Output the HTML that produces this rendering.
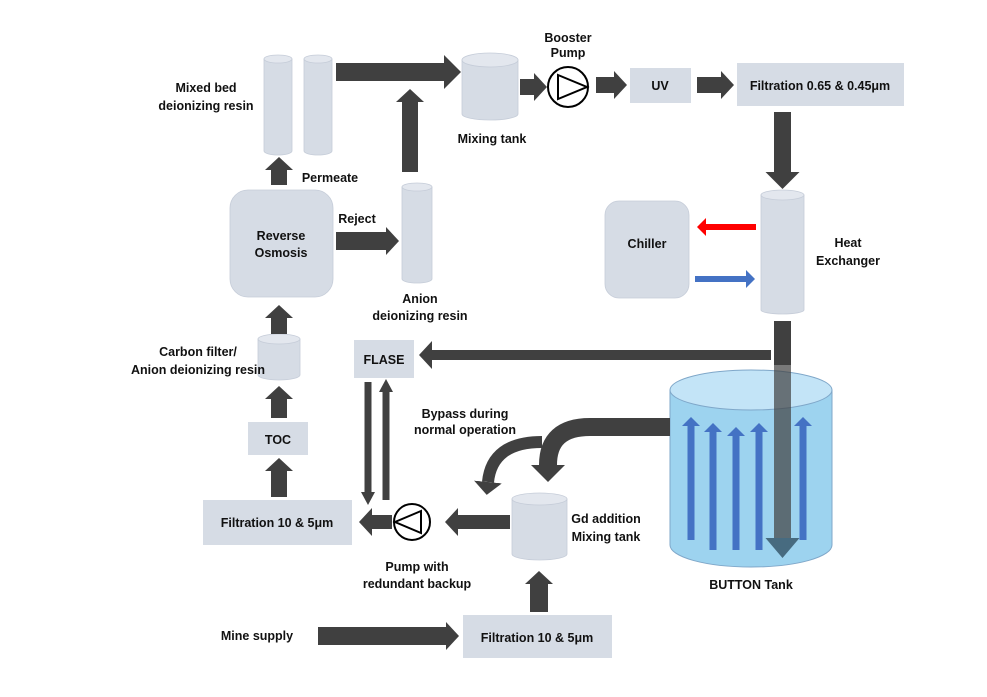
<!DOCTYPE html>
<html><head><meta charset="utf-8"><style>
html,body{margin:0;padding:0;background:#fff}
svg{display:block}
text{font-family:"Liberation Sans",sans-serif;font-weight:bold;font-size:12.5px;fill:#111}
</style></head><body>
<svg width="987" height="697" viewBox="0 0 987 697" xmlns="http://www.w3.org/2000/svg">
<defs>
<marker id="h" markerUnits="userSpaceOnUse" markerWidth="18" markerHeight="34" refX="0" refY="17" orient="auto"><path d="M0,0 L17,17 L0,34z" fill="#404040"/></marker>
<marker id="hs" markerUnits="userSpaceOnUse" markerWidth="14" markerHeight="28" refX="0" refY="14" orient="auto"><path d="M0,0 L13,14 L0,28z" fill="#404040"/></marker>
<marker id="hb" markerUnits="userSpaceOnUse" markerWidth="10" markerHeight="18" refX="0" refY="9" orient="auto"><path d="M0,0 L9,9 L0,18z" fill="#4472c4"/></marker>
<marker id="hr" markerUnits="userSpaceOnUse" markerWidth="10" markerHeight="18" refX="0" refY="9" orient="auto"><path d="M0,0 L9,9 L0,18z" fill="#ff0000"/></marker>
<marker id="ht" markerUnits="userSpaceOnUse" markerWidth="22" markerHeight="34" refX="0" refY="17" orient="auto"><path d="M0,0 L20,17 L0,34z" fill="#3e5f73" fill-opacity="0.9"/></marker>
</defs>
<g fill="#d6dce5" stroke="#c5ccd8" stroke-width="0.8">
<path d="M264,59 v92 a14,4 0 0 0 28,0 v-92z"/><ellipse cx="278" cy="59" rx="14" ry="4" fill="#e3e7ee"/>
<path d="M304,59 v92 a14,4 0 0 0 28,0 v-92z"/><ellipse cx="318" cy="59" rx="14" ry="4" fill="#e3e7ee"/>
<path d="M462,60 v54 a28,6 0 0 0 56,0 v-54z"/><ellipse cx="490" cy="60" rx="28" ry="7" fill="#e3e7ee"/>
<path d="M402,187 v92 a15,4 0 0 0 30,0 v-92z"/><ellipse cx="417" cy="187" rx="15" ry="4" fill="#e3e7ee"/>
<rect x="230" y="190" width="103" height="107" rx="18"/>
<path d="M258,339 v36 a21,5 0 0 0 42,0 v-36z"/><ellipse cx="279" cy="339" rx="21" ry="5" fill="#e3e7ee"/>
<rect x="248" y="422" width="60" height="33" stroke="none"/>
<rect x="203" y="500" width="149" height="45" stroke="none"/>
<rect x="354" y="340" width="60" height="38" stroke="none"/>
<rect x="630" y="68" width="61" height="35" stroke="none"/>
<rect x="737" y="63" width="167" height="43" stroke="none"/>
<rect x="605" y="201" width="84" height="97" rx="14"/>
<path d="M761,195 v115 a21.5,4 0 0 0 43,0 v-115z"/><ellipse cx="782.5" cy="195" rx="21.5" ry="5" fill="#e3e7ee"/>
<path d="M512,499 v55 a27.5,6 0 0 0 55,0 v-55z"/><ellipse cx="539.5" cy="499" rx="27.5" ry="6" fill="#e3e7ee"/>
<rect x="463" y="615" width="149" height="43" stroke="none"/>
</g>
<path d="M670,390 v155 a81,22 0 0 0 162,0 v-155z" fill="#9dd3ef" stroke="#7fa7c9" stroke-width="1"/>
<ellipse cx="751" cy="390" rx="81" ry="20" fill="#c3e4f7" stroke="#7fa7c9" stroke-width="1"/>
<g stroke="#4472c4" stroke-width="7" fill="none" stroke-linecap="butt">
<line x1="691" y1="540" x2="691" y2="426" marker-end="url(#hb)"/>
<line x1="713" y1="550" x2="713" y2="432" marker-end="url(#hb)"/>
<line x1="736" y1="550" x2="736" y2="436" marker-end="url(#hb)"/>
<line x1="759" y1="550" x2="759" y2="432" marker-end="url(#hb)"/>
<line x1="803" y1="540" x2="803" y2="426" marker-end="url(#hb)"/>
</g>
<g stroke="#404040" fill="none" stroke-linecap="butt">
<line x1="336" y1="72" x2="444" y2="72" stroke-width="18" marker-end="url(#h)"/>
<line x1="410" y1="172" x2="410" y2="102" stroke-width="16" marker-end="url(#hs)"/>
<line x1="520" y1="87" x2="534" y2="87" stroke-width="16" marker-end="url(#hs)"/>
<line x1="596" y1="85" x2="614" y2="85" stroke-width="16" marker-end="url(#hs)"/>
<line x1="697" y1="85" x2="721" y2="85" stroke-width="16" marker-end="url(#hs)"/>
<line x1="782.5" y1="112" x2="782.5" y2="172" stroke-width="17" marker-end="url(#h)"/>
<line x1="782.5" y1="321" x2="782.5" y2="365" stroke-width="17"/>
<line x1="771" y1="355" x2="432" y2="355" stroke-width="10" marker-end="url(#hs)"/>
<line x1="336" y1="241" x2="386" y2="241" stroke-width="18" marker-end="url(#hs)"/>
<line x1="279" y1="185" x2="279" y2="170" stroke-width="16" marker-end="url(#hs)"/>
<line x1="279" y1="334" x2="279" y2="318" stroke-width="16" marker-end="url(#hs)"/>
<line x1="279" y1="418" x2="279" y2="399" stroke-width="16" marker-end="url(#hs)"/>
<line x1="279" y1="497" x2="279" y2="471" stroke-width="16" marker-end="url(#hs)"/>
<line x1="368" y1="382" x2="368" y2="492" stroke-width="7"/>
<line x1="386" y1="500" x2="386" y2="392" stroke-width="7"/>
<line x1="510" y1="522" x2="458" y2="522" stroke-width="14" marker-end="url(#hs)"/>
<line x1="392" y1="522" x2="372" y2="522" stroke-width="14" marker-end="url(#hs)"/>
<line x1="318" y1="636" x2="446" y2="636" stroke-width="18" marker-end="url(#hs)"/>
<line x1="539" y1="612" x2="539" y2="584" stroke-width="18" marker-end="url(#hs)"/>
<path d="M670,427 H590 Q548,427 548,465" stroke-width="18" marker-end="url(#h)"/>
<path d="M542,442 Q492,442 488,482" stroke-width="12" marker-end="url(#hs)"/>
</g>
<path d="M361,492 L375,492 L368,505z" fill="#404040"/>
<path d="M379,392 L393,392 L386,379z" fill="#404040"/>
<line x1="782.5" y1="365" x2="782.5" y2="538" stroke="#404040" stroke-opacity="0.7" stroke-width="17" marker-end="url(#ht)"/>
<line x1="756" y1="227" x2="706" y2="227" stroke="#ff0000" stroke-width="6" marker-end="url(#hr)"/>
<line x1="695" y1="279" x2="746" y2="279" stroke="#4472c4" stroke-width="6" marker-end="url(#hb)"/>
<circle cx="568" cy="87" r="20" fill="#fff" stroke="#000" stroke-width="2"/>
<path d="M558,75 L587,87 L558,99z" fill="none" stroke="#000" stroke-width="2"/>
<circle cx="412" cy="522" r="18" fill="#fff" stroke="#000" stroke-width="2"/>
<path d="M421,511 L395,522 L421,533z" fill="none" stroke="#000" stroke-width="2"/>
<g text-anchor="middle">
<text x="568" y="42">Booster</text><text x="568" y="57">Pump</text>
<text x="206" y="92">Mixed bed</text><text x="206" y="110">deionizing resin</text>
<text x="492" y="143">Mixing tank</text>
<text x="330" y="182">Permeate</text>
<text x="357" y="223">Reject</text>
<text x="281" y="240">Reverse</text><text x="281" y="257">Osmosis</text>
<text x="420" y="303">Anion</text><text x="420" y="320">deionizing resin</text>
<text x="660" y="90" font-size="13">UV</text>
<text x="820" y="90">Filtration 0.65 &amp; 0.45μm</text>
<text x="647" y="248">Chiller</text>
<text x="848" y="247">Heat</text><text x="848" y="265">Exchanger</text>
<text x="198" y="356">Carbon filter/</text><text x="198" y="374">Anion deionizing resin</text>
<text x="384" y="364">FLASE</text>
<text x="278" y="444">TOC</text>
<text x="277" y="527">Filtration 10 &amp; 5μm</text>
<text x="465" y="418" font-size="10.5">Bypass during</text><text x="465" y="434" font-size="10.5">normal operation</text>
<text x="606" y="523">Gd addition</text><text x="606" y="541">Mixing tank</text>
<text x="417" y="571">Pump with</text><text x="417" y="588">redundant backup</text>
<text x="751" y="589">BUTTON Tank</text>
<text x="257" y="640">Mine supply</text>
<text x="537" y="642">Filtration 10 &amp; 5μm</text>
</g>
</svg>
</body></html>
